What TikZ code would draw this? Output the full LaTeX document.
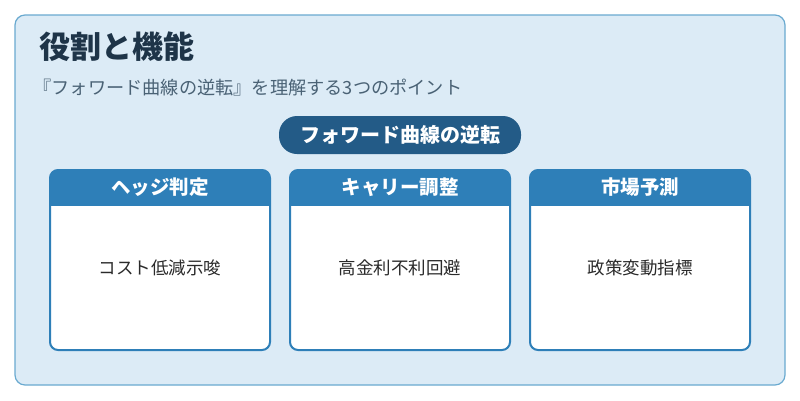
\documentclass[tikz,border=0pt]{standalone}
\usepackage{fontspec}
\setmainfont{Noto Sans CJK JP}
\begin{document}
\begin{tikzpicture}[x=1pt,y=-1pt,
  body/.style={font=\fontsize{17.5}{20}\selectfont, text=txt}]
\definecolor{bg}{HTML}{DCEBF6}
\definecolor{bord}{HTML}{6AAAD0}
\definecolor{hdrc}{HTML}{2E7FB8}
\definecolor{pill}{HTML}{235B87}
\definecolor{ttl}{HTML}{1E3448}
\definecolor{sub}{HTML}{4A6275}
\definecolor{txt}{HTML}{2A2A2A}
\useasboundingbox (0,0) rectangle (800,400);
\fill[white] (0,0) rectangle (800,400);
\draw[fill=bg, draw=bord, line width=1.2pt, rounded corners=10pt] (15,15) rectangle (785,385);
\node[anchor=west, text=ttl, font=\fontsize{31}{36}\selectfont\bfseries] (title) at (36,47) {役割と機能};
\node[anchor=west, text=sub, font=\fontsize{18.2}{21}\selectfont] (subt) at (30,88) {『フォワード曲線の逆転』を理解する3つのポイント};
\node[fill=pill, text=white, rounded corners=18pt, minimum width=242pt, minimum height=38pt, font=\fontsize{20}{23}\selectfont\bfseries] (pl) at (400,135) {フォワード曲線の逆転};
\foreach \x/\h/\b/\n in {50/ヘッジ判定/コスト低減示唆/a, 290/キャリー調整/高金利不利回避/b, 530/市場予測/政策変動指標/c}{
  \begin{scope}
  \clip[rounded corners=8pt] (\x,170) rectangle (\x+220,350);
  \fill[white] (\x,170) rectangle (\x+220,350);
  \fill[hdrc] (\x,170) rectangle (\x+220,206);
  \end{scope}
  \draw[hdrc, line width=2pt, rounded corners=8pt] (\x,170) rectangle (\x+220,350);
  \node[text=white, font=\fontsize{19.5}{22}\selectfont\bfseries] (h\n) at (\x+110,187) {\h};
  \node[body] (b\n) at (\x+110,268) {\b};
}
\end{tikzpicture}
\end{document}
